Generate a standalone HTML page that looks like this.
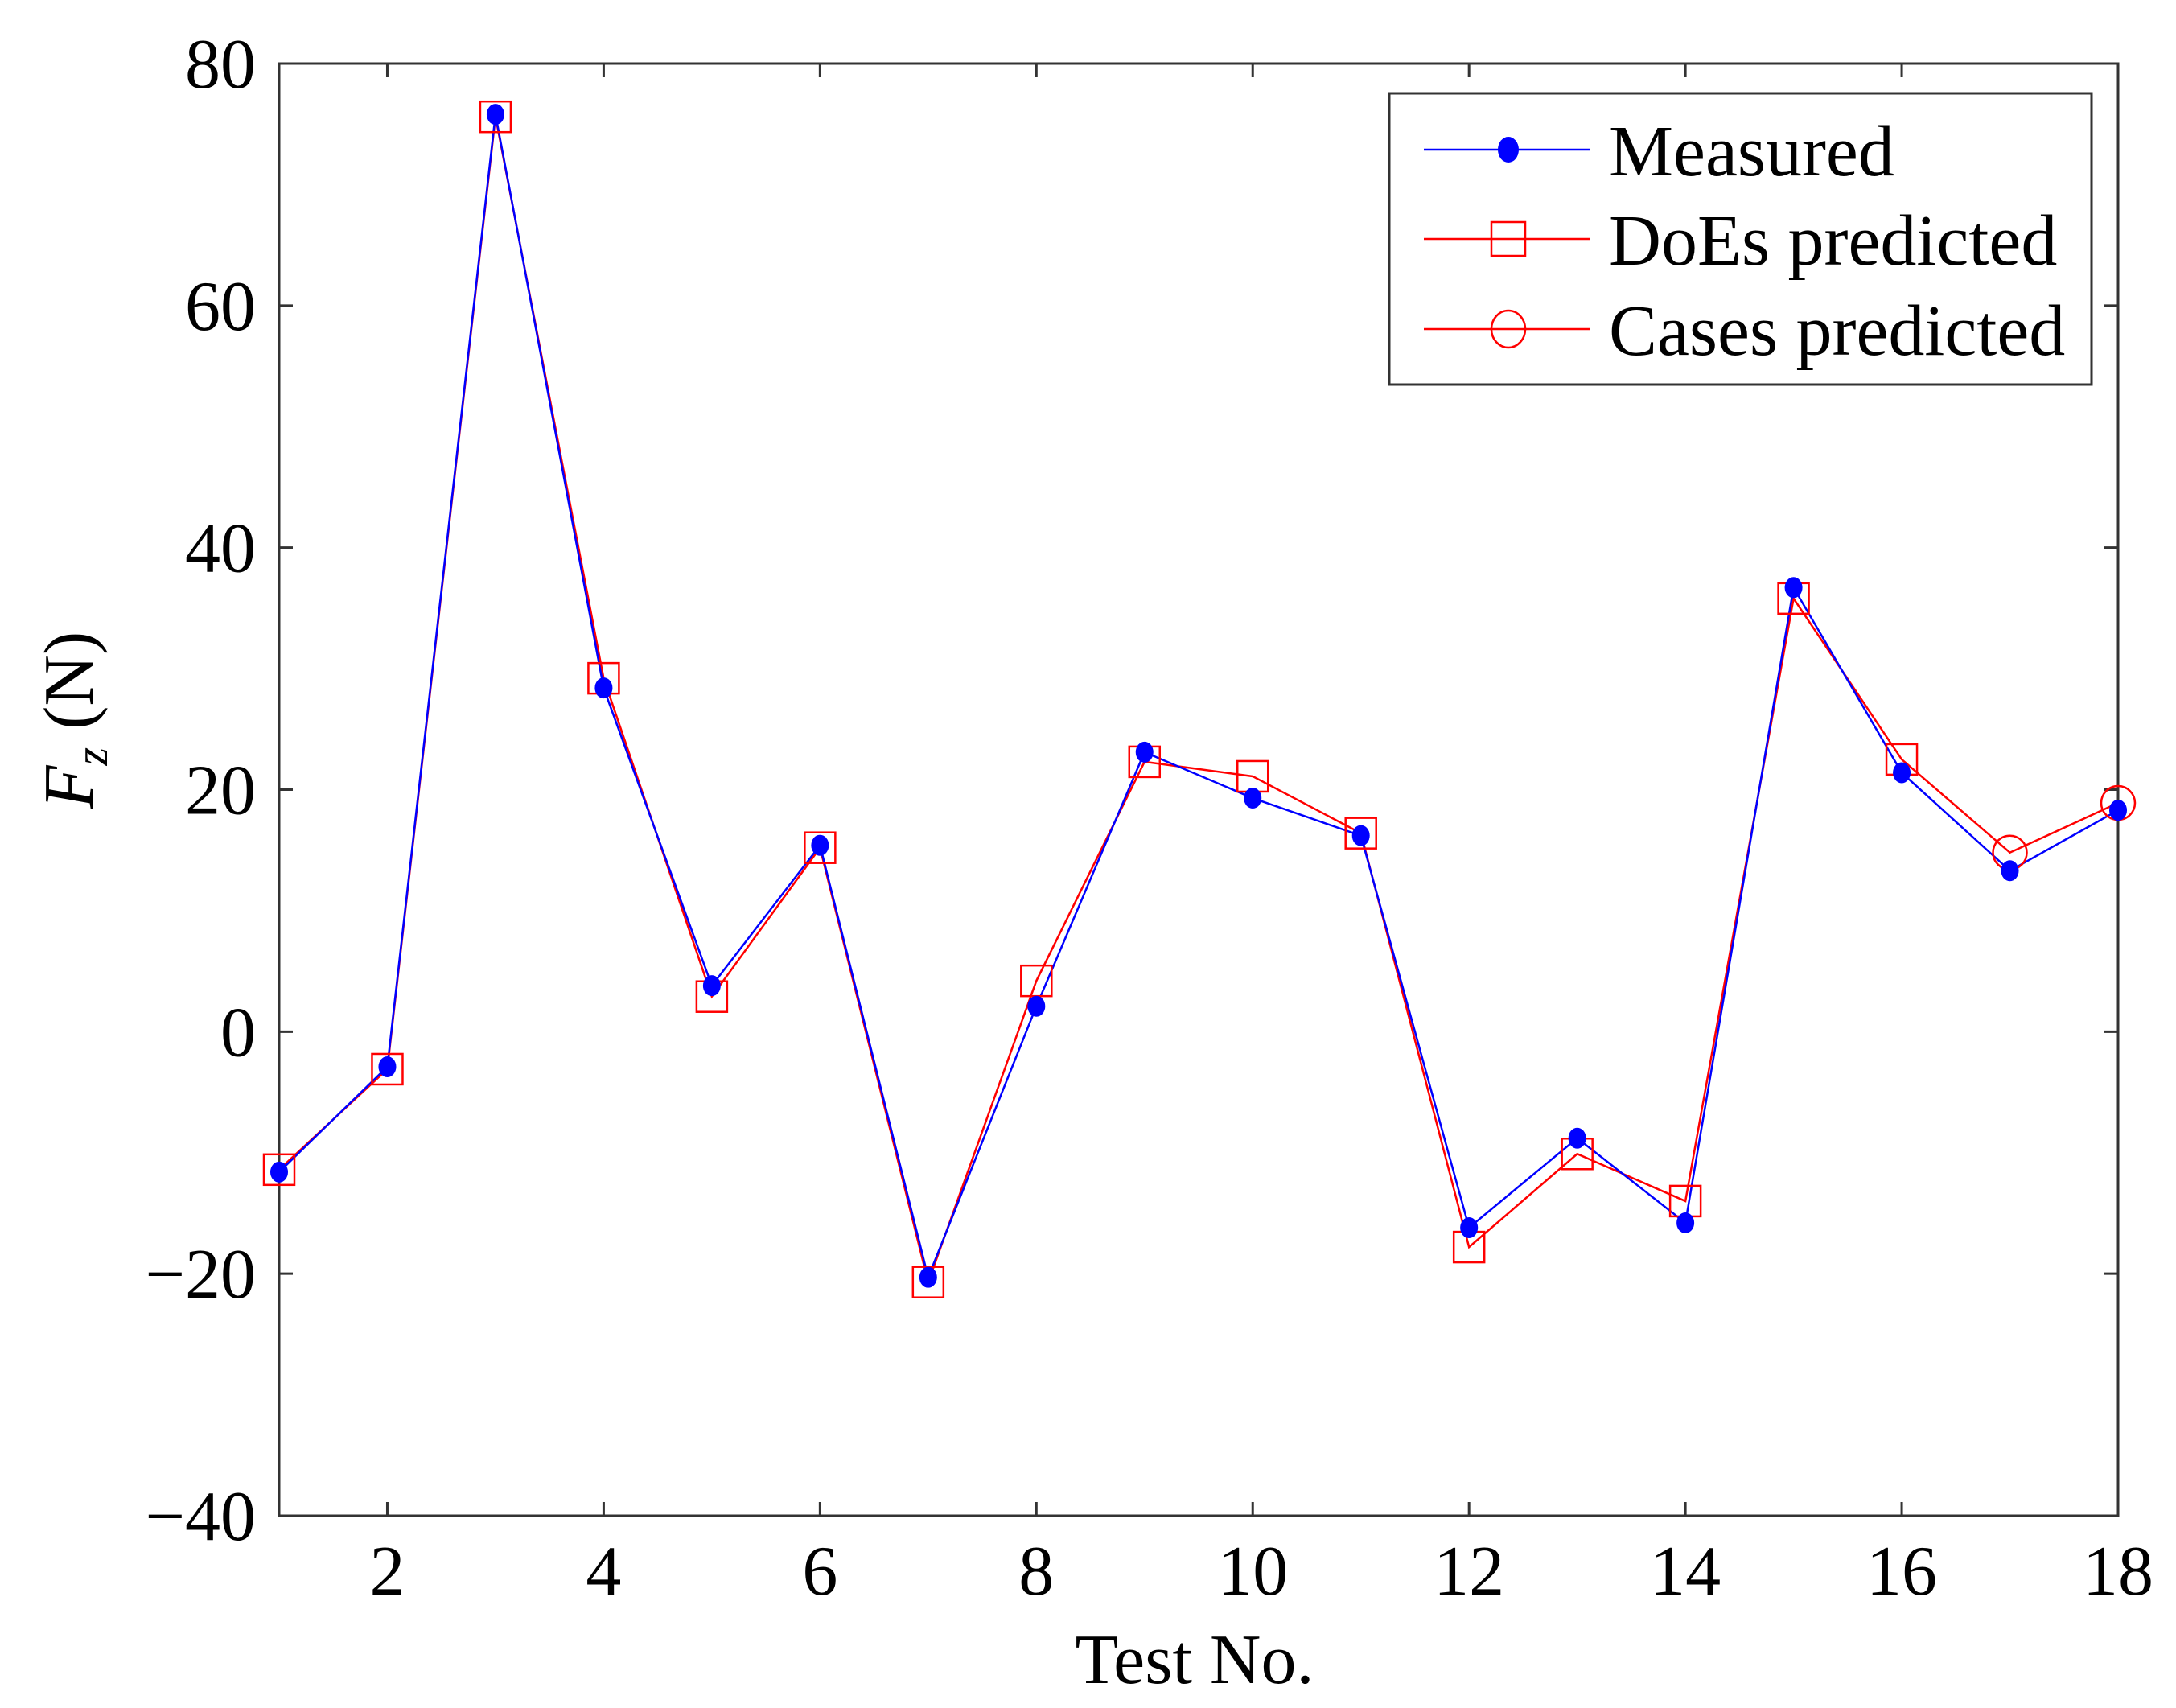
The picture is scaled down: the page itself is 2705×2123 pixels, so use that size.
<!DOCTYPE html>
<html><head><meta charset="utf-8"><style>
html,body{margin:0;padding:0;background:#fff;}
svg{display:block;font-family:"Liberation Serif",serif;}
</style></head><body>
<svg id="chart" width="2705" height="2123" viewBox="0 0 2705 2123" xmlns="http://www.w3.org/2000/svg">
<rect x="0" y="0" width="2705" height="2123" fill="#fff"/>
<g id="plot"></g>
</svg>
<script>
const tests = [1,2,3,4,5,6,7,8,9,10,11,12,13,14,15,16,17,18];
const measured = [-11.6,-2.9,75.8,28.4,3.8,15.4,-20.3,2.1,23.1,19.3,16.2,-16.2,-8.8,-15.8,36.7,21.4,13.3,18.3];
const doesTests = [1,2,3,4,5,6,7,8,9,10,11,12,13,14,15,16];
const doesPred = [-11.4,-3.1,75.6,29.2,2.9,15.2,-20.7,4.2,22.3,21.1,16.4,-17.8,-10.1,-14.0,35.8,22.5];
const casesTests = [17,18];
const casesPred = [14.8,18.9];
const xTicks = [2,4,6,8,10,12,14,16,18];
const yTicks = [-40,-20,0,20,40,60,80];

const L=347,R=2633,T=79,B=1884;
const xMin=1,xMax=18,yMin=-40,yMax=80;
const sx=v=>L+(v-xMin)/(xMax-xMin)*(R-L);
const sy=v=>B-(v-yMin)/(yMax-yMin)*(B-T);
const NS="http://www.w3.org/2000/svg";
const g=document.getElementById('plot');
function mk(tag,attrs,parent){const e=document.createElementNS(NS,tag);for(const k in attrs)e.setAttribute(k,attrs[k]);(parent||g).appendChild(e);return e;}

const box=mk('rect',{x:L,y:T,width:R-L,height:B-T,fill:'none',stroke:'#333',"stroke-width":3});


const tl=17;
xTicks.forEach(t=>{
  const x=sx(t);
  const a=mk('line',{x1:x,y1:B,x2:x,y2:B-tl,stroke:'#333',"stroke-width":3});
  
  
  const b=mk('line',{x1:x,y1:T,x2:x,y2:T+tl,stroke:'#333',"stroke-width":3});
  
  
  const tx=mk('text',{x:x,y:1982,"font-size":88,"text-anchor":"middle",fill:'#000'});
  tx.textContent=t;
  
  
});
yTicks.forEach(t=>{
  const y=sy(t);
  const a=mk('line',{x1:L,y1:y,x2:L+tl,y2:y,stroke:'#333',"stroke-width":3});
  
  
  const b=mk('line',{x1:R,y1:y,x2:R-tl,y2:y,stroke:'#333',"stroke-width":3});
  
  
  const tx=mk('text',{x:318,y:y+30,"font-size":88,"text-anchor":"end",fill:'#000'});
  tx.textContent=(t<0?'\u2212'+(-t):t);
  
  
});
const xl=mk('text',{x:1485,y:2092,"font-size":88,"text-anchor":"middle",fill:'#000'});
xl.textContent='Test No.';


const yl=mk('text',{x:0,y:0,"font-size":88,"text-anchor":"middle",fill:'#000',transform:'translate(115,895) rotate(-90)'});
yl.innerHTML='<tspan font-style="italic">F</tspan><tspan font-size="58" font-style="italic" dy="18">z</tspan><tspan dy="-18">  (N)</tspan>';



const predX=doesTests.concat(casesTests), predY=doesPred.concat(casesPred);
const rl=mk('polyline',{points:predX.map((t,i)=>sx(t)+','+sy(predY[i])).join(' '),fill:'none',stroke:'#f00',"stroke-width":2.5});


const bl=mk('polyline',{points:tests.map((t,i)=>sx(t)+','+sy(measured[i])).join(' '),fill:'none',stroke:'#00f',"stroke-width":2.5});


doesTests.forEach((t,i)=>{
  const s=mk('rect',{x:sx(t)-19,y:sy(doesPred[i])-19,width:38,height:38,fill:'none',stroke:'#f00',"stroke-width":2.5});
  
  
});
casesTests.forEach((t,i)=>{
  const c=mk('circle',{cx:sx(t),cy:sy(casesPred[i]),r:21,fill:'none',stroke:'#f00',"stroke-width":2.5});
  
  
});
tests.forEach((t,i)=>{
  const c=mk('ellipse',{cx:sx(t),cy:sy(measured[i]),rx:11,ry:13,fill:'#00f'});
  
  
});

const lg=mk('g',{});


const lb=mk('rect',{x:1727,y:116,width:873,height:362,fill:'#fff',stroke:'#333',"stroke-width":3},lg);


const rows=[['Measured','#00f','dot',186],['DoEs predicted','#f00','sq',297],['Cases predicted','#f00','ci',409]];
rows.forEach(r=>{
  const y=r[3];
  const ln=mk('line',{x1:1770,y1:y,x2:1977,y2:y,stroke:r[1],"stroke-width":2.5},lg);
  
  
  let m;
  if(r[2]=='dot') m=mk('ellipse',{cx:1875,cy:y,rx:13,ry:16,fill:'#00f'},lg);
  else if(r[2]=='sq') m=mk('rect',{x:1854,y:y-21,width:42,height:42,fill:'none',stroke:'#f00',"stroke-width":2.5},lg);
  else m=mk('ellipse',{cx:1875,cy:y,rx:21,ry:23,fill:'none',stroke:'#f00',"stroke-width":2.5},lg);
  
  
  const tx=mk('text',{x:2000,y:y+32,"font-size":90,fill:'#000'},lg);
  tx.textContent=r[0];
  
  
});
</script>
</body></html>
